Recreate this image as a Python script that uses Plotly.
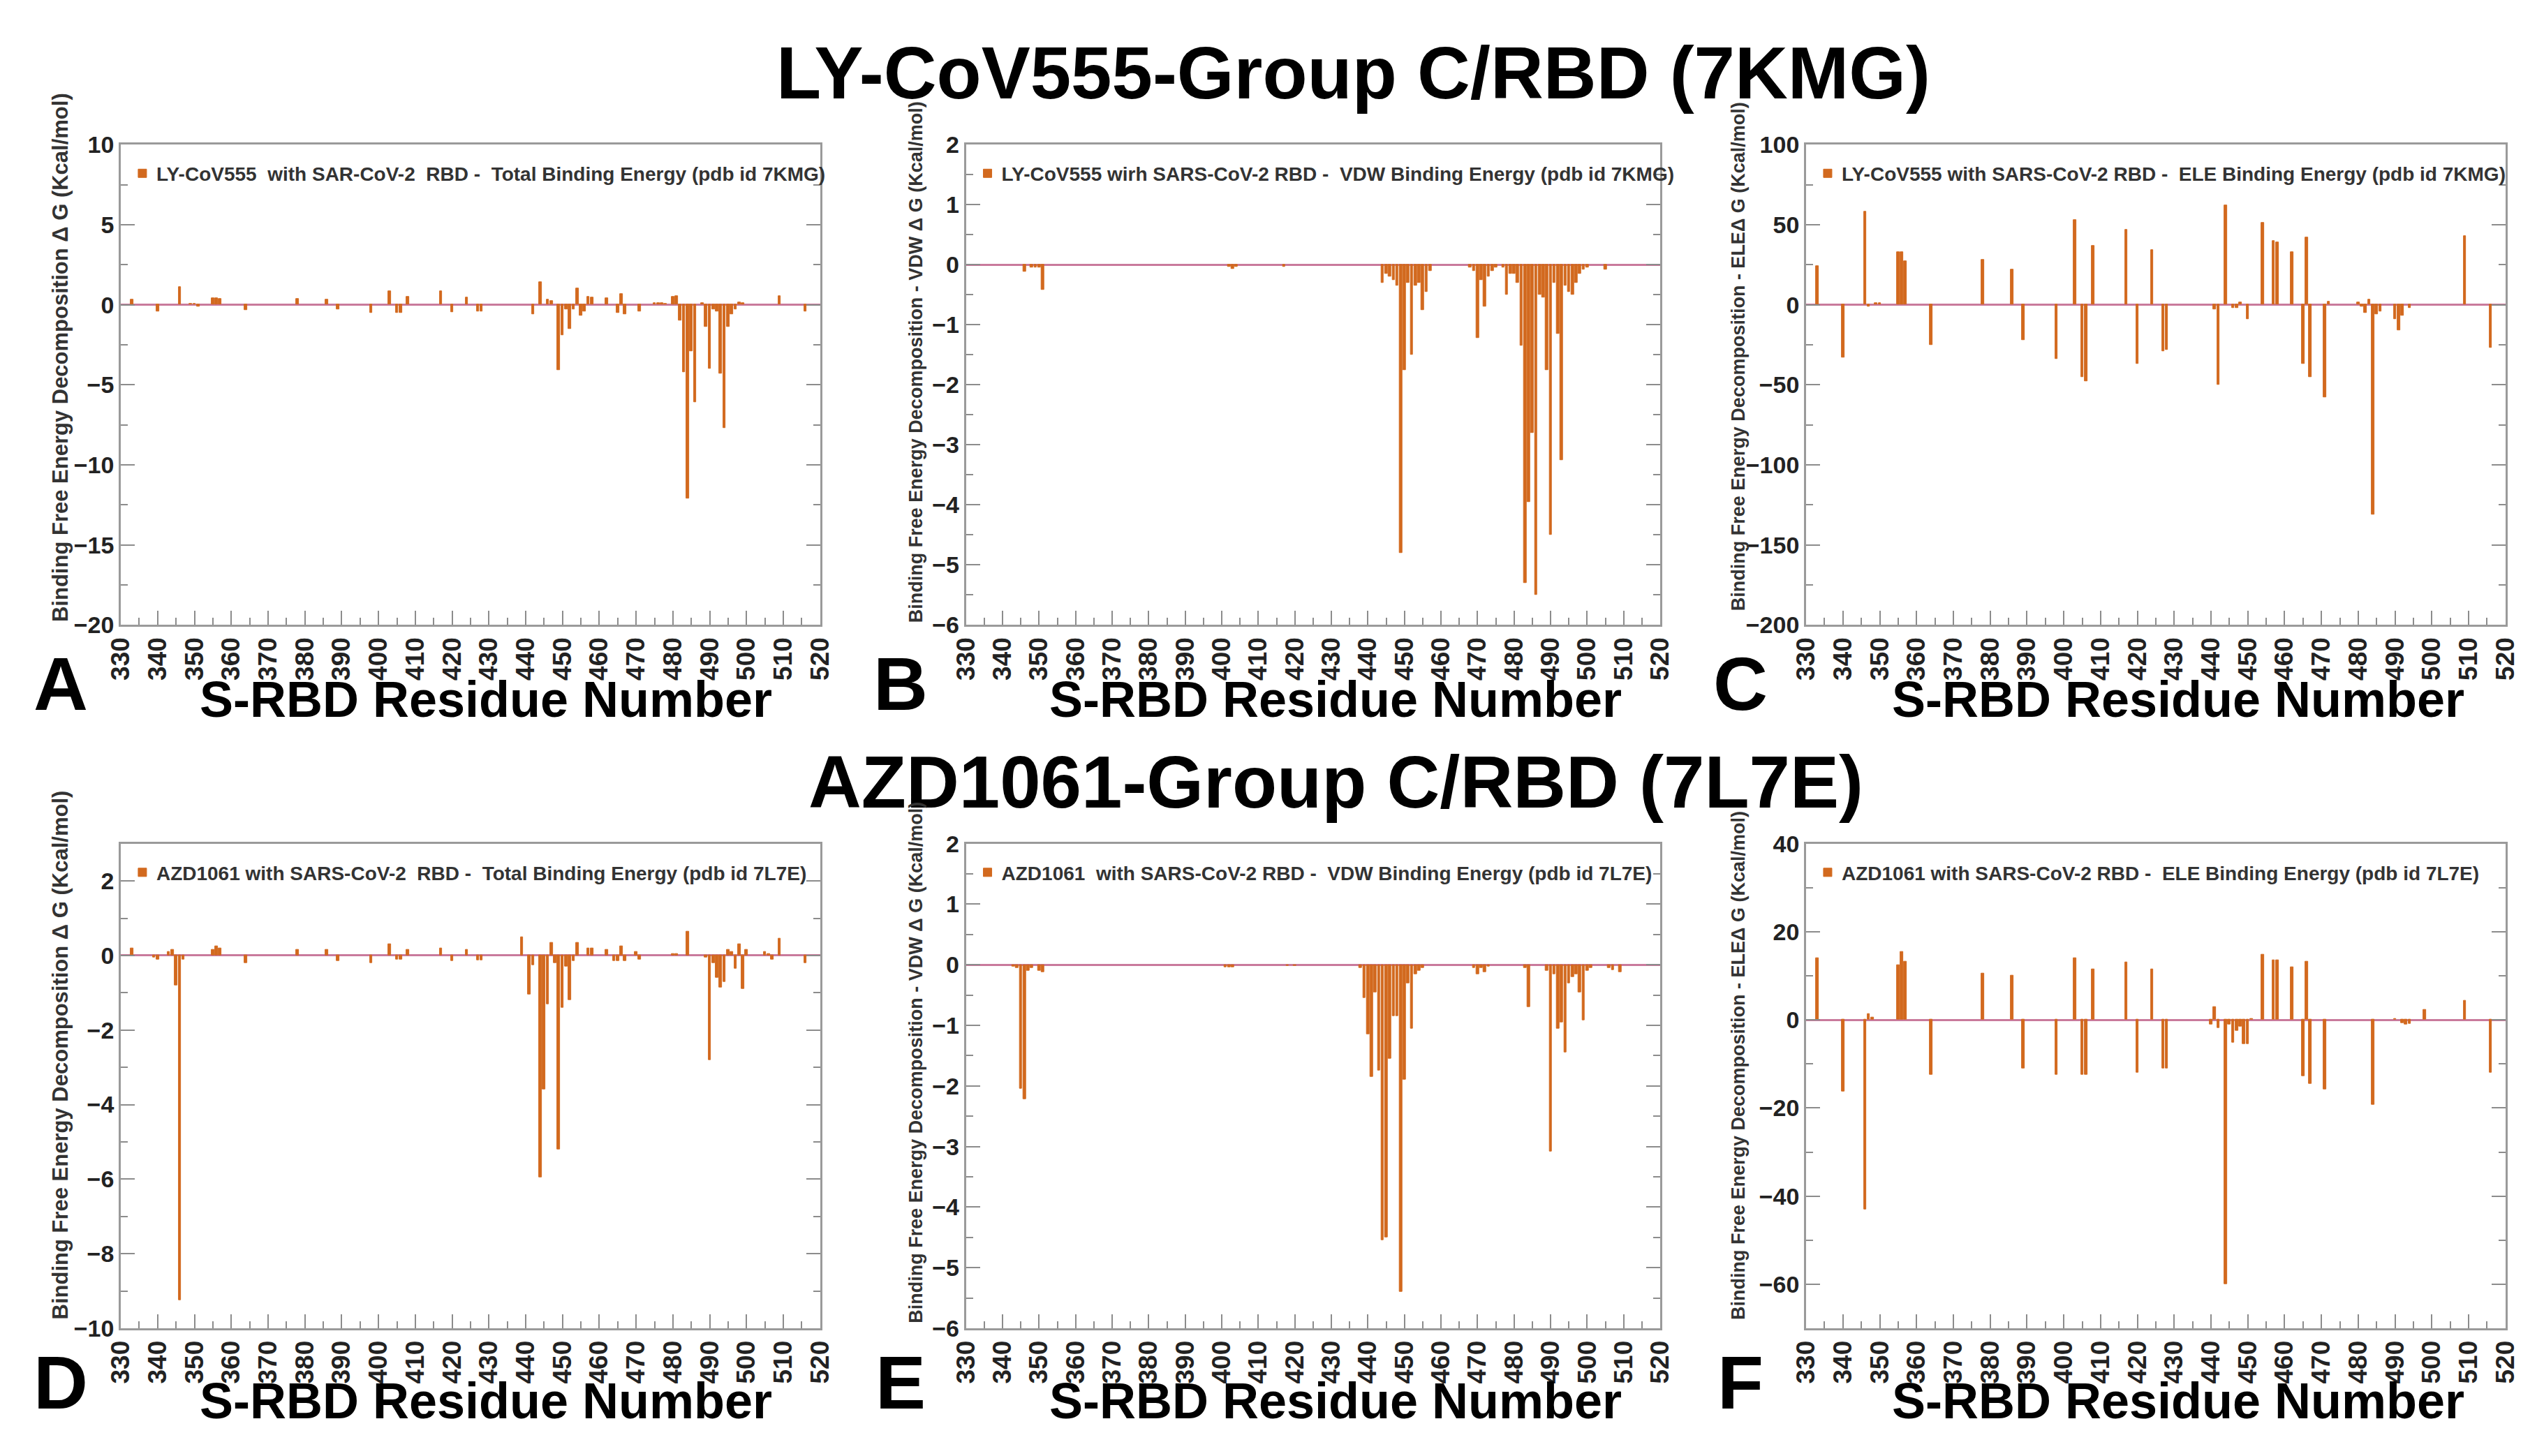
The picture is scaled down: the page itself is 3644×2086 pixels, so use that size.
import plotly.graph_objects as go

# per-residue binding free energy contributions (kcal/mol)
# LY-CoV555 / RBD (7KMG) - total
a_res = [333, 340, 346, 349, 350, 351, 355, 356, 357, 364, 378, 386, 389, 398, 403, 405, 406, 408,
         417, 420, 424, 427, 428, 442, 444, 446, 447, 449, 450, 451, 452, 453, 454, 455, 456, 457,
         458, 462, 465, 466, 467, 471, 475, 476, 477, 478, 480, 481, 482, 483, 484, 485, 486, 488,
         489, 490, 491, 492, 493, 494, 495, 496, 497, 498, 499, 509, 516]
a_val = [0.3, -0.4, 1.1, 0.05, 0.05, -0.1, 0.4, 0.4, 0.35, -0.35, 0.35, 0.3, -0.3, -0.5, 0.85, -0.5, -0.5, 0.5,
         0.85, -0.45, 0.45, -0.4, -0.4, -0.6, 1.4, 0.3, 0.25, -4.1, -1.9, -0.3, -1.5, -0.3, 1.0, -0.7, -0.4, 0.5,
         0.45, 0.4, -0.5, 0.65, -0.6, -0.4, 0.1, 0.1, 0.1, 0.05, 0.5, 0.55, -1.0, -4.2, -12.1, -2.9, -6.1, 0.1,
         -1.4, -4.0, -0.3, -0.4, -4.3, -7.7, -1.4, -0.6, -0.3, 0.15, 0.1, 0.55, -0.4]

# LY-CoV555 / RBD (7KMG) - VDW
b_res = [346, 348, 349, 350, 351, 402, 403, 404, 417, 444, 445, 446, 447, 448, 449, 450, 451, 452,
         453, 454, 455, 456, 457, 468, 469, 470, 471, 472, 473, 474, 475, 477, 478, 479, 480, 481,
         482, 483, 484, 485, 486, 487, 488, 489, 490, 491, 492, 493, 494, 495, 496, 497, 498, 499,
         500, 505]
b_val = [-0.12, -0.05, -0.05, -0.05, -0.42, -0.04, -0.07, -0.04, -0.04, -0.3, -0.15, -0.2, -0.25, -0.35, -4.8, -1.75, -0.3, -1.5,
         -0.35, -0.3, -0.75, -0.45, -0.1, -0.05, -0.1, -1.22, -0.25, -0.7, -0.2, -0.1, -0.05, -0.05, -0.5, -0.15, -0.15, -0.3,
         -1.35, -5.3, -3.95, -2.8, -5.5, -0.5, -0.55, -1.75, -4.5, -0.3, -1.15, -3.25, -0.35, -0.45, -0.5, -0.3, -0.15, -0.08,
         -0.05, -0.08]

# LY-CoV555 / RBD (7KMG) - ELE
c_res = [333, 340, 346, 347, 349, 350, 355, 356, 357, 364, 378, 386, 389, 398, 403, 405, 406, 408,
         417, 420, 424, 427, 428, 441, 442, 444, 446, 447, 448, 450, 454, 457, 458, 462, 465, 466,
         467, 471, 472, 480, 481, 482, 483, 484, 485, 486, 490, 491, 492, 494, 509, 516]
c_val = [24, -33, 58, -1, 1, 1, 33, 33, 27, -25, 28, 22, -22, -34, 53, -45, -48, 37,
         47, -37, 34, -29, -28, -3, -50, 62, -2, -2, 1.5, -9, 51, 40, 39, 33, -37, 42,
         -45, -58, 2, 1.5, -1, -5, 3, -131, -6, -4, -9, -16, -7, -2, 43, -27]

# AZD1061 / RBD (7L7E) - total
d_res = [333, 339, 340, 343, 344, 345, 346, 347, 355, 356, 357, 364, 378, 386, 389, 398, 403, 405,
         406, 408, 417, 420, 424, 427, 428, 439, 441, 442, 444, 445, 446, 447, 448, 449, 450, 451,
         452, 453, 454, 457, 458, 462, 464, 465, 466, 467, 470, 471, 480, 481, 484, 489, 490, 491,
         492, 493, 494, 495, 496, 497, 498, 499, 500, 505, 506, 507, 509, 516]
d_val = [0.2, -0.05, -0.1, 0.1, 0.15, -0.8, -9.25, -0.1, 0.15, 0.25, 0.2, -0.2, 0.15, 0.15, -0.15, -0.2, 0.3, -0.1,
         -0.1, 0.15, 0.2, -0.15, 0.15, -0.12, -0.12, 0.5, -1.05, -0.25, -5.95, -3.6, -1.3, 0.35, -0.2, -5.2, -1.4, -0.3,
         -1.2, -0.15, 0.35, 0.2, 0.2, 0.15, -0.15, -0.15, 0.25, -0.15, 0.1, -0.1, 0.05, 0.05, 0.65, -0.05, -2.8, -0.2,
         -0.6, -0.85, -0.7, 0.15, 0.1, -0.35, 0.3, -0.9, 0.15, 0.1, 0.05, -0.1, 0.45, -0.2]

# AZD1061 / RBD (7L7E) - VDW
e_res = [343, 344, 345, 346, 347, 348, 350, 351, 401, 402, 403, 418, 420, 438, 439, 440, 441, 442,
         443, 444, 445, 446, 447, 448, 449, 450, 451, 452, 453, 454, 455, 469, 470, 471, 472, 473,
         483, 484, 489, 490, 491, 492, 493, 494, 495, 496, 497, 498, 499, 500, 501, 506, 507, 509]
e_val = [-0.03, -0.05, -2.05, -2.22, -0.1, -0.05, -0.1, -0.12, -0.04, -0.04, -0.04, -0.02, -0.02, -0.05, -0.55, -1.15, -1.85, -0.45,
         -1.75, -4.55, -4.5, -1.55, -0.85, -0.85, -5.4, -1.9, -0.3, -1.05, -0.15, -0.1, -0.05, -0.05, -0.15, -0.05, -0.12, -0.03,
         -0.05, -0.7, -0.1, -3.08, -0.15, -1.05, -0.95, -1.45, -0.3, -0.2, -0.15, -0.45, -0.92, -0.1, -0.05, -0.05, -0.08, -0.12]

# AZD1061 / RBD (7L7E) - ELE
f_res = [333, 340, 346, 347, 348, 355, 356, 357, 364, 378, 386, 389, 398, 403, 405, 406, 408, 417,
         420, 424, 427, 428, 440, 441, 442, 444, 445, 446, 447, 448, 449, 450, 451, 454, 457, 458,
         462, 465, 466, 467, 471, 484, 490, 492, 493, 494, 498, 509, 516]
f_val = [14, -16.3, -43, 1.3, 0.5, 12.5, 15.5, 13.3, -12.5, 10.5, 10, -11, -12.5, 14, -12.5, -12.5, 11.5, 13,
         -12, 11.5, -11, -11, -1, 3, -1.8, -60, -1, -5.2, -2.5, -1.5, -5.5, -5.5, 0.3, 14.8, 13.5, 13.5,
         12, -12.8, 13.3, -14.5, -15.8, -19.3, 0.3, -0.7, -1.0, -0.8, 2.3, 4.3, -12]

legend_names = [
    "LY-CoV555  with SAR-CoV-2  RBD -  Total Binding Energy (pdb id 7KMG)",
    "LY-CoV555 wirh SARS-CoV-2 RBD -  VDW Binding Energy (pdb id 7KMG)",
    "LY-CoV555 with SARS-CoV-2 RBD -  ELE Binding Energy (pdb id 7KMG)",
    "AZD1061 with SARS-CoV-2  RBD -  Total Binding Energy (pdb id 7L7E)",
    "AZD1061  with SARS-CoV-2 RBD -  VDW Binding Energy (pdb id 7L7E)",
    "AZD1061 with SARS-CoV-2 RBD -  ELE Binding Energy (pdb id 7L7E)",
]
y_titles = [
    "Binding Free Energy Decomposition \u0394 G (Kcal/mol)",
    "Binding Free Energy Decomposition - VDW \u0394 G (Kcal/mol)",
    "Binding Free Energy Decomposition - ELE\u0394 G (Kcal/mol)",
]
panel_letters = ["A", "B", "C", "D", "E", "F"]
row_titles = ["LY-CoV555-Group C/RBD (7KMG)", "AZD1061-Group C/RBD (7L7E)"]

series = [(a_res, a_val), (b_res, b_val), (c_res, c_val),
          (d_res, d_val), (e_res, e_val), (f_res, f_val)]
for r, v in series:
    assert len(r) == len(v)

# y range, major step, minor step for each panel
y_setup = [([-20, 10], 5, 2.5), ([-6, 2], 1, 0.5), ([-200, 100], 50, 25),
           ([-10, 3], 2, 1), ([-6, 2], 1, 0.5), ([-70, 40], 20, 10)]

col_dom = [[0.040, 0.318], [0.376, 0.652], [0.710, 0.988]]
row_dom = [[0.576, 0.912], [0.084, 0.423]]

BAR = "#d2691e"
FONT = "Liberation Sans, Arial, sans-serif"

fig = go.Figure()
layout = {}
for i, (res, val) in enumerate(series):
    n = i + 1
    sfx = "" if n == 1 else str(n)
    col, row = i % 3, i // 3
    fig.add_trace(go.Bar(
        x=res, y=val, name=legend_names[i], width=0.7,
        marker=dict(color=BAR, line=dict(color=BAR, width=1)),
        xaxis="x" + sfx, yaxis="y" + sfx, legend="legend" + sfx, showlegend=True,
    ))
    yr, ydt, ymin = y_setup[i]
    layout["xaxis" + sfx] = dict(
        domain=col_dom[col], anchor="y" + sfx, range=[330, 520], tick0=330, dtick=10,
        tickangle=-90, ticks="inside", ticklen=20, tickwidth=2, tickcolor="#8c8c8c",
        showline=True, linecolor="#9a9a9a", linewidth=3, mirror=True,
        showgrid=False, zeroline=False,
        minor=dict(dtick=5, ticks="inside", ticklen=10, tickwidth=2, tickcolor="#8c8c8c"),
        tickfont=dict(size=37, color="#222", family=FONT, weight="bold"),
    )
    layout["yaxis" + sfx] = dict(
        domain=row_dom[row], anchor="x" + sfx, range=yr, dtick=ydt,
        ticks="inside", ticklen=20, tickwidth=2, tickcolor="#8c8c8c",
        showline=True, linecolor="#9a9a9a", linewidth=3, mirror="ticks",
        showgrid=False, zeroline=True, zerolinecolor="#c97a9c", zerolinewidth=3,
        minor=dict(dtick=ymin, ticks="inside", ticklen=10, tickwidth=2, tickcolor="#8c8c8c"),
        tickfont=dict(size=34, color="#222", family=FONT, weight="bold"),
    )
    layout["legend" + sfx] = dict(
        x=col_dom[col][0] + 0.003, y=row_dom[row][1] - 0.008, xanchor="left", yanchor="top",
        bgcolor="rgba(0,0,0,0)", itemwidth=30,
        font=dict(size=28, color="#333", family=FONT, weight="bold"),
    )

annotations = []


def note(text, x, y, size, color="black", angle=0):
    annotations.append(dict(text=text, x=x, y=y, xref="paper", yref="paper",
                            xanchor="center", yanchor="middle", showarrow=False,
                            textangle=angle,
                            font=dict(size=size, color=color, family=FONT, weight="bold")))


# row titles
note(row_titles[0], 0.530, 0.962, 105)
note(row_titles[1], 0.523, 0.466, 105)

ytitle_x = [0.016, 0.356, 0.683]
ytitle_y = [[0.763, 0.760, 0.764], [0.275, 0.270, 0.268]]
ytitle_size = [31, 27, 27]
xtitle_x = [0.185, 0.523, 0.858]
xtitle_y = [0.524, 0.033]
letter_x = [0.016, 0.350, 0.684]
letter_y = [0.535, 0.046]
for i in range(6):
    col, row = i % 3, i // 3
    note("S-RBD Residue Number", xtitle_x[col], xtitle_y[row], 72)
    note(y_titles[col], ytitle_x[col], ytitle_y[row][col], ytitle_size[col], "#333", -90)
    note(panel_letters[i], letter_x[col], letter_y[row], 108)

fig.update_layout(
    width=3644, height=2086, margin=dict(l=0, r=0, t=0, b=0),
    paper_bgcolor="white", plot_bgcolor="white", bargap=0,
    annotations=annotations, **layout,
)

fig.write_html("out.html")
